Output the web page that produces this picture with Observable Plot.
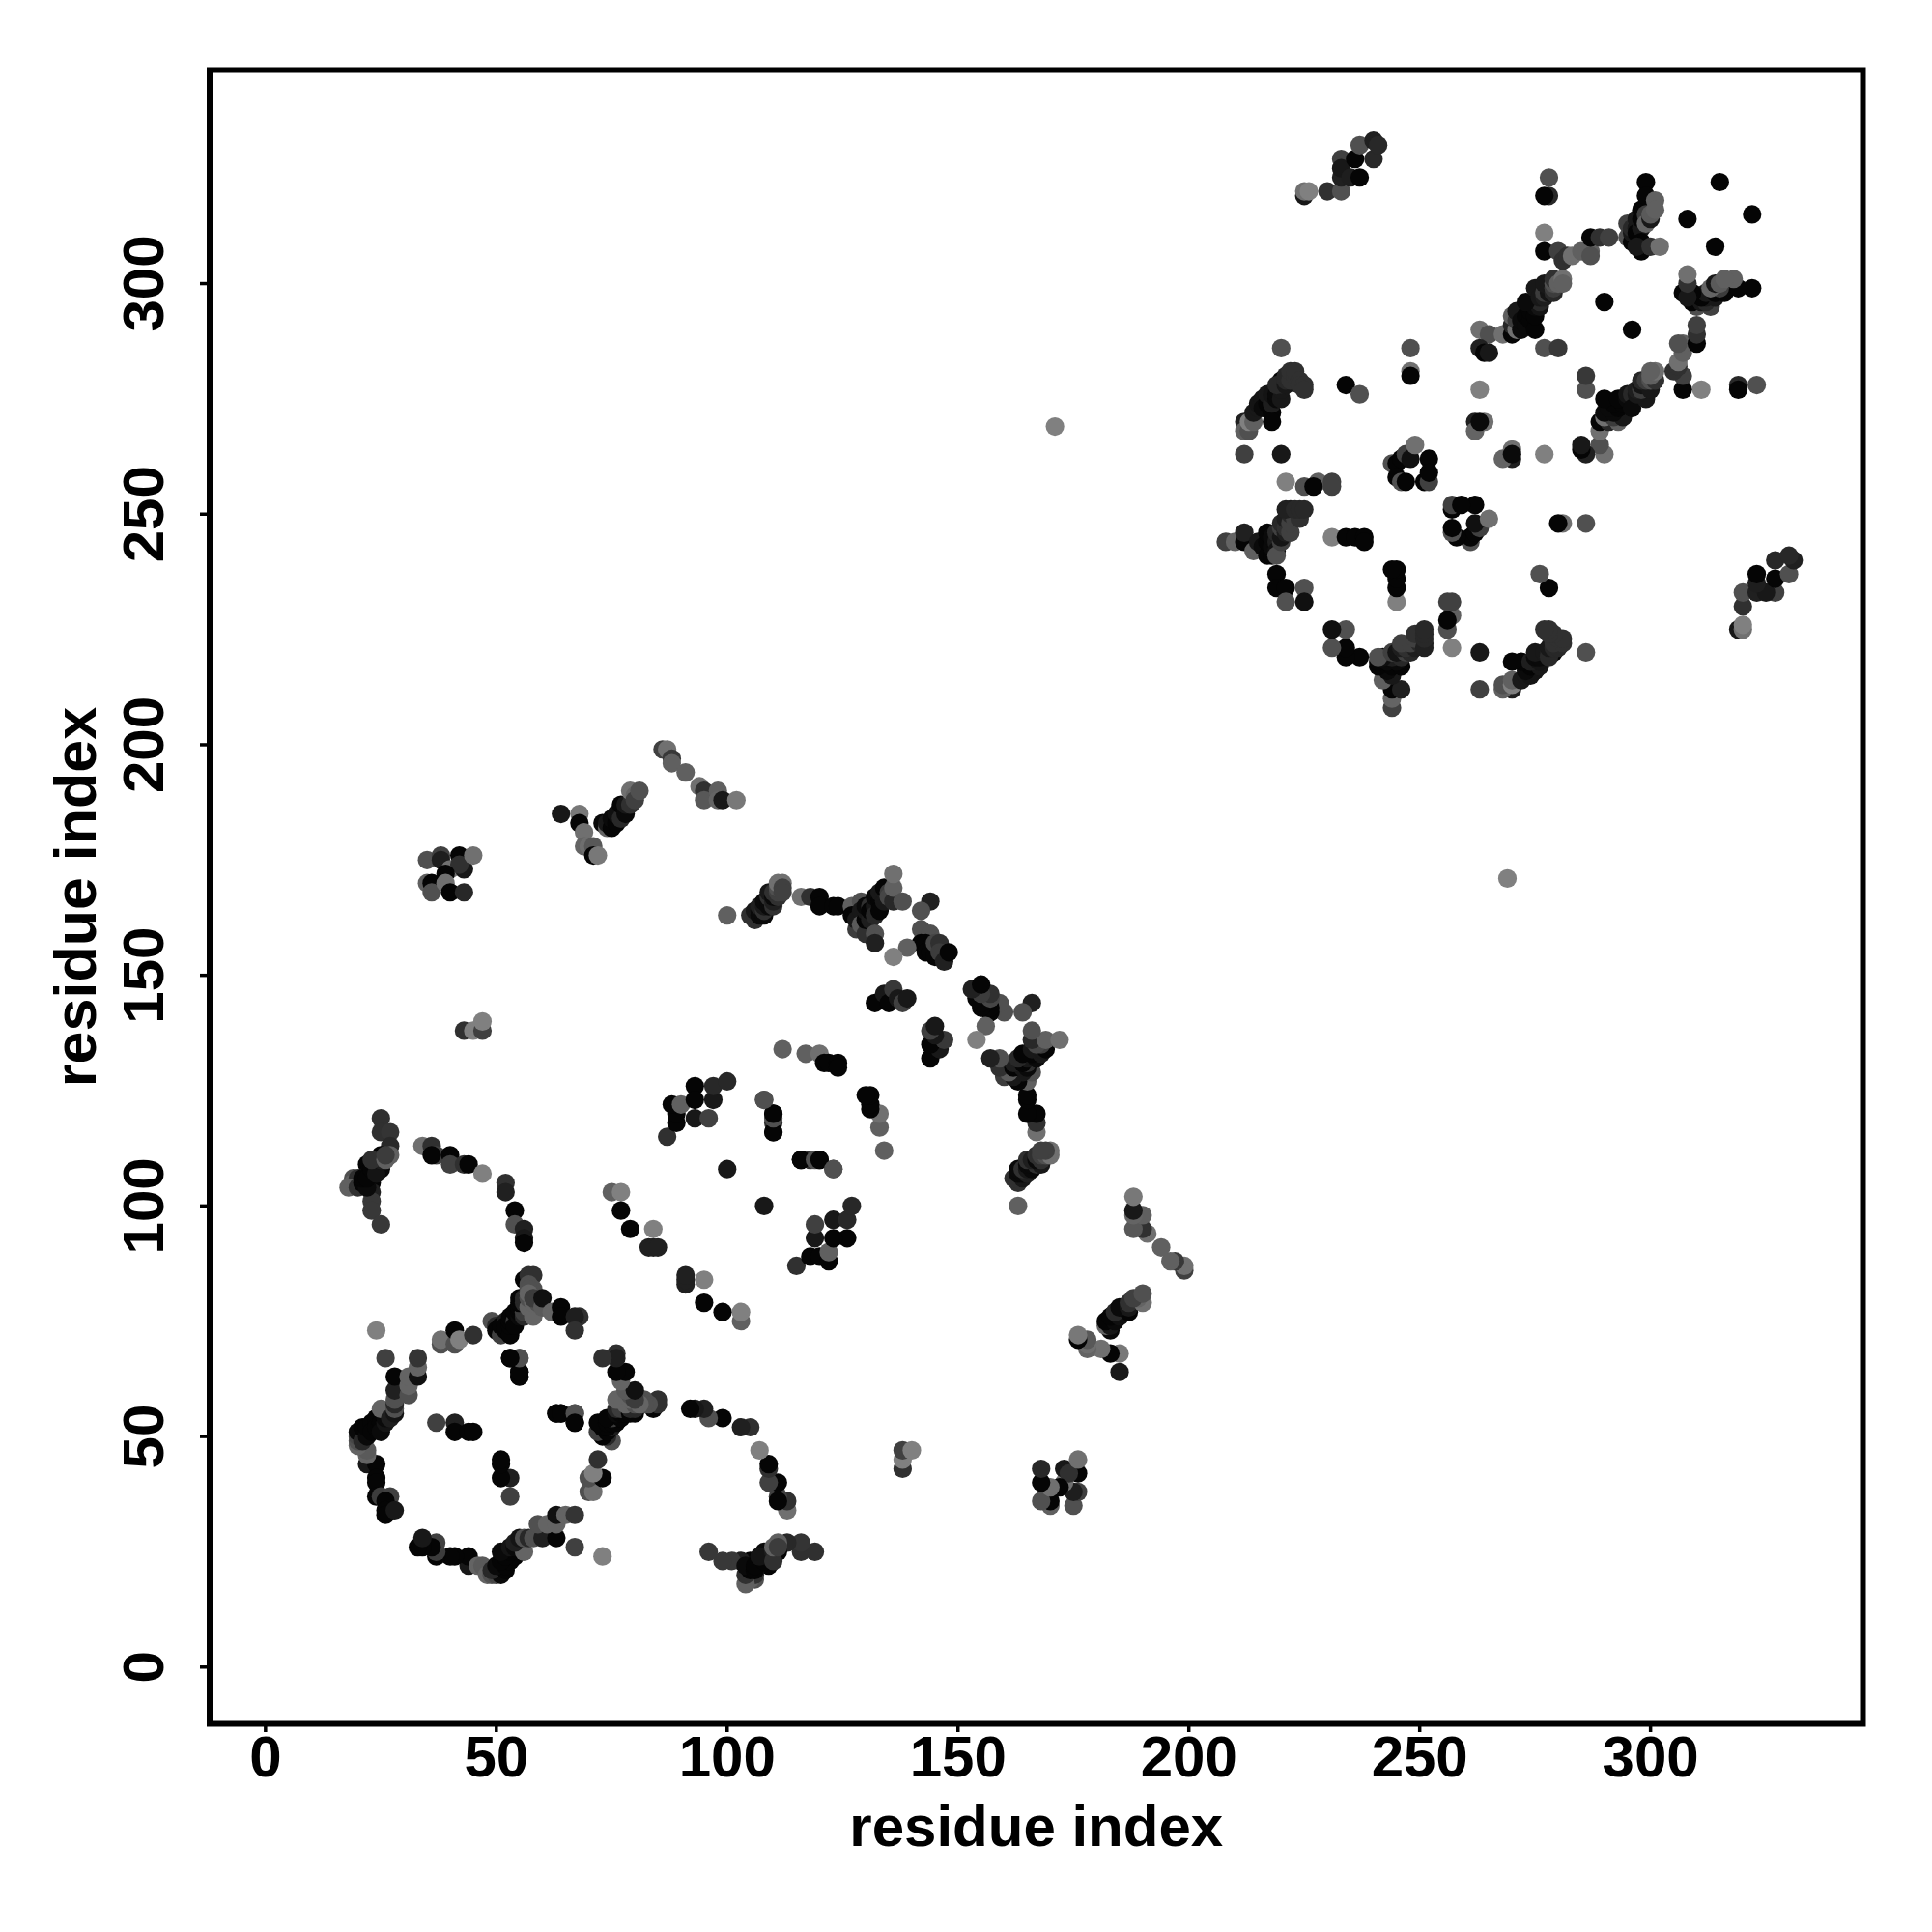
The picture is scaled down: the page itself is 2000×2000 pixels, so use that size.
<!DOCTYPE html>
<html><head><meta charset="utf-8">
<script src="https://cdn.jsdelivr.net/npm/d3@7"></script>
<script src="https://cdn.jsdelivr.net/npm/@observablehq/plot@0.6"></script>
<style>html,body{margin:0;padding:0;background:#fff}svg{display:block}</style>
</head><body><div id="chart"></div>
<script>
// contacts: [residue i, residue j, score shade], i < j; the map is symmetric
const loopWest = [[22,44,24],[24,44,5],[24,41,5],[24,40,5],[24,37,5],[25,37,60],[27,37,64],[26,36,5],[26,34,5],[26,33,5],[28,34,24],
[22,46,100],[22,47,90],[20,48,100],[20,49,80],[20,50,70],[20,51,10],[21,49,40],[21,52,5],[22,50,10],[22,52,5],[23,53,5],[23,51,5],[24,54,5],[24,52,5],[25,53,5],[25,51,10],[26,53,20],[26,54,10],[25,56,100],[27,54,30],[28,55,20],[28,56,80],[28,57,40],[28,58,80],[28,60,32],[28,63,5],[31,59,80],[31,61,100],[31,63,100],[33,63,16],[33,65,100],[33,67,52],[26,67,64],[24,73,128]];
const loopNorth = [[38,70,80],[38,71,112],[41,70,80],[41,73,5],[42,71,128],[45,72,48],
[49,75,80],[50,74,40],[50,73,5],[51,72,64],[51,74,5],[52,73,5],[52,75,30],[52,74,5],[53,72,5],[53,74,5],[53,75,5],[53,76,5],[54,76,5],[54,75,60],[54,74,5],[54,77,5],[55,76,10],[55,77,5],[55,78,5],[56,76,40],[56,78,5],[56,77,60],[55,79,5],[55,80,5],[56,79,40],[56,80,40],[57,78,100],[57,80,80],[58,76,100],[58,79,100],[59,79,80],[56,84,5],[57,85,48],[58,85,48],[57,83,80],[58,82,80],[57,82,80],[57,81,100],[58,80,60],[60,78,90],[60,80,16],[62,77,100],[64,78,5],[64,76,5],[68,76,48],[67,76,30],[67,73,48]];
const loopCentre = [[37,53,64],[41,53,32],[41,51,5],[44,51,5],[45,51,5],[53,67,5],[55,67,80],[55,64,5],[55,63,5],[63,55,5],[64,55,5],[67,55,80],[67,53,5]];
const armA = [[25,119,48],[25,116,48],[27,116,52],[27,113,40],[27,111,96],[25,111,5],[22,109,5],[25,109,30],[25,108,10],[22,107,5],[23,107,5],[19,106,80],[19,105,96],[20,106,48],[18,104,96],[20,104,48],[23,105,5],[23,103,32],[23,101,56],[23,99,56],[25,96,56],[21,105,5],[22,104,10],[21,106,5],[22,106,5],[23,108,5],[24,109,10],[24,107,20],[25,110,30],[23,110,48],[26,110,96],[26,111,60]];
const armB = [[34,113,112],[36,113,48],[37,111,64],[36,111,5],[40,111,5],[40,109,64],[43,109,48],[44,109,5],[47,107,128],[52,105,48],[52,103,32],[54,99,5],[54,96,80],[56,95,32],[56,93,24],[56,92,5]];
const armC = [[75,103,96],[77,103,128],[77,99,5],[79,95,5],[84,95,128],[83,91,32],[84,91,32],[85,91,32]];
const block = [[87,115,48],[89,118,5],[89,120,5],[88,122,5],[90,122,96],[93,126,5],[93,123,5],[93,119,24],[96,119,64],[97,123,24],[97,126,40],[100,127,40],[100,108,24],
[108,123,80],[110,120,5],[110,118,48],[110,116,5],[116,110,5],[119,110,80],[120,110,5],[123,108,80],[112,134,96],[117,133,96],[120,133,112],[121,131,5],[122,131,5],[124,131,5],[124,130,5]];
const bandTop = [[100,163,96],[105,163,48],[106,162,48],[106,164,24],[107,163,10],[107,164,10],[107,165,32],[108,163,10],[108,164,48],[108,165,24],[108,166,10],[109,165,10],[109,166,10],[109,167,48],[109,168,24],[110,165,48],[110,166,30],[110,167,10],[110,168,48],[111,167,48],[111,168,64],[111,169,80],[111,170,112],[112,170,112],[112,169,64],[112,168,64],
[116,167,112],[118,167,48],[120,167,5],[120,165,5],[123,165,5],[124,165,5],[127,165,96],[127,163,5],[128,163,5],[128,160,60],[128,162,24],[129,166,80],[129,164,24],[129,161,90],[130,159,48],[130,162,5],[130,164,24],[130,165,10],[131,162,30],[131,165,48],[131,164,5],[132,165,24],[132,163,40],[132,167,10],[133,166,5],[133,164,5],[133,168,24],[134,166,24],[134,168,24],[134,169,5],[135,168,60],[135,167,70],[136,166,40],[136,169,96],[136,172,112],[138,166,80],[132,159,80],[132,157,32],
[144,166,32],[142,164,80],[142,160,80],[144,159,80],[142,157,5],[143,157,5],[144,156,5],[143,155,5],[144,155,5],[145,154,5],[145,157,70],[146,157,48],[146,155,60],[147,153,32],[148,155,5],[139,156,96],[136,154,128]];
const bandMid = [[132,144,5],[134,146,24],[135,144,5],[136,147,56],[137,145,24],[138,144,64],[139,145,24]];
const farA = [[35,175,80],[38,176,64],[38,175,30],[40,173,112],[42,176,5],[43,173,24],[42,174,48],[45,176,112],[35,170,96],[36,170,5],[36,168,80],[39,172,5],[39,170,112],[40,168,5],[43,168,40],[43,138,48],[45,138,128],[47,138,64],[47,140,128]];
const farB = [[64,185,24],[68,185,120],[68,183,5],[69,181,112],[69,178,100],[70,178,110],[71,178,88],[71,176,5],[72,176,120],
[73,183,10],[74,182,100],[74,183,24],[75,182,5],[75,184,10],[76,183,5],[76,185,16],[77,184,40],[77,187,5],[78,185,10],[78,187,24],[79,187,48],[79,190,112],[80,189,100],[80,188,64],[81,190,80]];
const farC = [[86,199,64],[87,199,112],[88,197,56],[88,196,96],[91,194,96],[94,191,112],[95,190,48],[95,188,88],[98,190,96],[98,188,100],[99,188,24],[102,188,120]];
const c2West = [[208,244,64],[210,244,100],[212,244,5],[212,246,32],[214,242,96],[215,244,24],[216,243,10],[217,241,5],[217,244,5],[217,246,5],[218,241,5],[218,243,10],[218,245,10],[219,243,10],[219,244,30],[219,242,16],[219,241,80],[219,246,40],[219,237,5],[219,234,5],[221,234,5],[225,234,80],[221,231,80],[225,231,16],
[220,244,64],[220,245,20],[220,247,64],[220,248,40],[221,246,30],[221,247,48],[221,249,30],[222,246,64],[222,248,64],[222,250,40],[222,251,30],[223,249,64],[224,249,48],[221,251,32],[223,251,40],[224,251,40],[225,251,40],[212,263,64],[220,263,24],[221,257,128],[225,256,80],[228,257,96],[227,256,5],[231,257,64],[231,256,64]];
const c2NorthWest = [[212,270,32],[212,268,96],[213,268,80],[213,270,128],[214,270,96],[214,272,24],[215,273,24],[215,274,20],[216,275,20],[216,273,10],[217,274,5],[217,276,24],[218,272,5],[218,270,5],[218,274,30],[218,276,20],[219,275,10],[219,276,10],[220,275,24],[220,277,24],[220,278,30],[220,279,5],[219,278,40],[221,278,24],[221,279,40],[221,280,40],[222,279,48],[222,281,48],[223,280,48],[223,281,48],[224,279,48],[224,278,48],[225,278,48],[225,277,48],[220,286,80],[234,278,5],[237,276,80]];
const c2Centre = [[231,245,128],[234,245,5],[236,245,5],[238,245,5],[238,244,5],[244,261,80],[245,261,5],[245,258,5],[246,257,80],[247,257,5],[246,262,5],[247,263,64],[248,262,16],[249,265,112],[252,262,5],[251,257,5],[252,257,64],[252,259,5],[248,286,80],[248,281,112],[248,280,5],[263,277,128],[262,270,32],[262,268,100],[264,270,112],[270,263,10]];
const c2Far = [[225,319,24],[225,320,112],[226,320,128],[230,320,48],[233,320,80],[233,327,64],[233,323,32],[233,325,24],[235,323,30],[236,327,5],[237,323,5],[237,330,80],[240,327,40],[240,331,32],[241,330,40]];
const c2Band = [[263,290,112],[265,289,80],[263,286,32],[264,285,5],[265,285,24],[268,289,112],[270,289,5],[270,291,40],[270,293,96],[271,290,112],[271,292,60],[271,294,24],[272,290,10],[272,292,10],[273,291,10],[273,293,5],[274,292,5],[274,294,5],[275,290,5],[275,293,5],[275,295,10],[276,295,20],[276,296,40],[273,296,10],[275,299,24],[276,297,24],[277,297,30],[277,298,60],[278,298,20],[278,299,20],[277,300,24],[279,298,40],[279,299,60],[279,300,80],[279,301,48],[280,300,96],[281,301,112],[281,300,96],[277,286,80],[280,286,56]];
const c2North = [[278,323,80],[278,319,40],[277,319,5],[277,311,128],[277,307,5],[280,307,64],[281,305,48],[282,306,48],[283,306,112],[285,307,96],[287,307,96],[287,306,80],[287,310,5],[289,310,48],[291,310,64],[290,296,5],
[295,310,80],[295,313,64],[296,309,5],[296,311,24],[296,312,40],[297,312,24],[297,314,24],[297,311,5],[298,312,24],[298,314,5],[298,309,5],[298,307,5],[297,308,24],[298,316,5],[299,322,5],[299,319,5],[299,315,60],[299,313,100],[300,314,24],[300,315,90],[300,308,48],[301,318,96],[301,316,96],[302,308,112],[308,314,5],[315,322,5]];

const contacts = [loopWest, loopNorth, loopCentre, armA, armB, armC, block, bandTop, bandMid, farA, farB, farC, [[171,269,128]], c2West, c2NorthWest, c2Centre, c2Far, c2Band, c2North].flat();
const table = contacts.flatMap(([i, j, s]) => [{x: i, y: j, s}, {x: j, y: i, s}]);

const xTicks = [0, 50, 100, 150, 200, 250, 300];
const font = "Liberation Sans, Arial, Helvetica, sans-serif";

const chart = Plot.plot({
  width: 2000, height: 2000,
  marginLeft: 216.5, marginRight: 72, marginTop: 72, marginBottom: 216,
  style: {fontFamily: font, fontWeight: "bold", background: "#fff", color: "#000"},
  x: {domain: [-12.1, 346], label: null},
  y: {domain: [-12.3, 346.3], label: null},
  color: {type: "linear", domain: [0, 128], range: ["#000", "#808080"]},
  marks: [
    Plot.dot(table, {x: "x", y: "y", fill: "s", r: 9.6, stroke: "none"}),
    Plot.frame({stroke: "#000", strokeWidth: 6}),
    Plot.axisX({ticks: xTicks, tickSize: 9, tickPadding: 3, fontSize: 60, strokeWidth: 3.5, label: null}),
    Plot.axisY({ticks: xTicks, tickSize: 9.5, tickPadding: 39, fontSize: 60, strokeWidth: 3.5, tickRotate: -90, label: null}),
    Plot.text(["residue index"], {frameAnchor: "bottom", dy: 126, fontSize: 60, textAnchor: "middle", lineAnchor: "bottom"}),
    Plot.text(["residue index"], {frameAnchor: "left", dx: -118, rotate: -90, fontSize: 61, textAnchor: "middle", lineAnchor: "bottom"})
  ]
});
document.getElementById("chart").appendChild(chart);
</script></body></html>
